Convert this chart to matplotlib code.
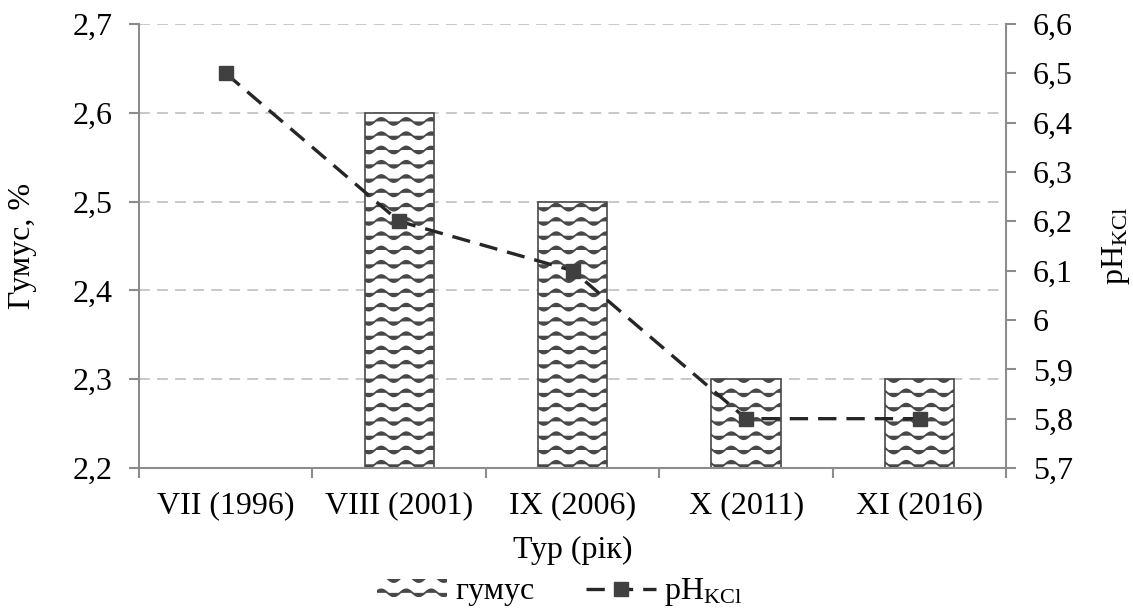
# Humus and pH(KCl) by survey round
import numpy as np
import matplotlib
matplotlib.use("Agg")
import matplotlib.pyplot as plt
import matplotlib.hatch as mhatch
from matplotlib.path import Path
from matplotlib.patches import Patch
from matplotlib.ticker import FuncFormatter, FixedLocator

# %%
# Data
rounds = ["VII (1996)", "VIII (2001)", "IX (2006)", "X (2011)", "XI (2016)"]
humus = [2.2, 2.6, 2.5, 2.3, 2.3]
ph_kcl = [6.5, 6.2, 6.1, 5.8, 5.8]

# %%
# Wavy hatch: replaces the '-' horizontal hatch
class WavyHatch(mhatch.HatchPatternBase):
    def __init__(self, hatch, density):
        self.num_lines = 7 if '-' in hatch else 0
        self.pts = 81
        self.num_vertices = self.num_lines * self.pts

    def set_vertices_and_codes(self, vertices, codes):
        xs = np.linspace(0.0, 1.0, self.pts)
        for i in range(self.num_lines):
            y0 = (i + 0.5) / self.num_lines
            seg = slice(i * self.pts, (i + 1) * self.pts)
            vertices[seg, 0] = xs
            vertices[seg, 1] = y0 + 0.035 * np.sin(2 * np.pi * 4 * xs)
            codes[seg] = Path.LINETO
            codes[i * self.pts] = Path.MOVETO

mhatch._hatch_types[0] = WavyHatch

plt.rcParams['font.family'] = ['Liberation Serif', 'DejaVu Serif']
plt.rcParams['mathtext.fontset'] = 'custom'
plt.rcParams['mathtext.rm'] = 'Liberation Serif'
plt.rcParams['hatch.linewidth'] = 1.3

spine_col = '#8c8c8c'
bar_edge = '#484848'
fs = 23

def comma(v, pos):
    return ('%g' % round(v, 1)).replace('.', ',')

# %%
fig = plt.figure(figsize=(11.33, 6.12), dpi=100)
ax = fig.add_axes([0.1227, 0.2353, 0.7655, 0.7255])
x = np.arange(len(rounds))

ax.bar(x, humus, width=0.4, color='white', edgecolor=bar_edge, linewidth=1.2,
       hatch='-', zorder=2)
ax.set_ylim(2.2, 2.7)
ax.set_xlim(-0.5, len(rounds) - 0.5)
ax.set_yticks(np.arange(2.2, 2.71, 0.1))
ax.yaxis.set_major_formatter(FuncFormatter(comma))
ax.set_xticks(x)
ax.set_xticklabels(rounds)
ax.xaxis.set_minor_locator(FixedLocator(np.arange(-0.5, len(rounds), 1.0)))
ax.tick_params(axis='x', which='major', length=0, pad=17, labelsize=fs)
ax.tick_params(axis='x', which='minor', length=7, width=1.5, color=spine_col, direction='out')
ax.tick_params(axis='y', length=7, width=1.5, color=spine_col, pad=12, labelsize=fs)
ax.grid(axis='y', color='#c4c4c4', linestyle=(0, (6, 4)), linewidth=1.3)
ax.set_axisbelow(True)
for s in ['top', 'right']:
    ax.spines[s].set_visible(False)
for s in ['left', 'bottom']:
    ax.spines[s].set_color(spine_col)
    ax.spines[s].set_linewidth(1.5)

ax.set_ylabel('Гумус, %', fontsize=fs)
ax.yaxis.set_label_coords(-0.118, 0.5)
ax.set_xlabel('Тур (рік)', fontsize=fs)
ax.xaxis.set_label_coords(0.5, -0.152)

ax2 = ax.twinx()
line, = ax2.plot(x, ph_kcl, color='#262626', linewidth=2.4, dashes=(5.5, 3),
                 marker='s', markersize=10, markerfacecolor='#404040',
                 markeredgecolor='#404040', zorder=3)
ax2.set_ylim(5.7, 6.6)
ax2.set_yticks(np.arange(5.7, 6.61, 0.1))
ax2.yaxis.set_major_formatter(FuncFormatter(comma))
ax2.tick_params(axis='y', length=7, width=1.5, color=spine_col, pad=12, labelsize=fs)
for s in ['top', 'left', 'bottom']:
    ax2.spines[s].set_visible(False)
ax2.spines['right'].set_color(spine_col)
ax2.spines['right'].set_linewidth(1.5)
ax2.set_ylabel(r'$\mathregular{pH_{KCl}}$', fontsize=fs)
ax2.yaxis.set_label_coords(1.108, 0.5)

# Legend below the axes
humus_handle = Patch(facecolor='white', edgecolor=bar_edge, linewidth=0, hatch='-')
fig.legend([humus_handle, line], ['гумус', r'$\mathregular{pH_{KCl}}$'],
           loc='center', bbox_to_anchor=(0.494, 0.032), ncol=2,
           frameon=False, fontsize=fs, handlelength=2.2, handleheight=0.5,
           columnspacing=1.6, handletextpad=0.25)

fig.savefig('out.png', dpi=100)
